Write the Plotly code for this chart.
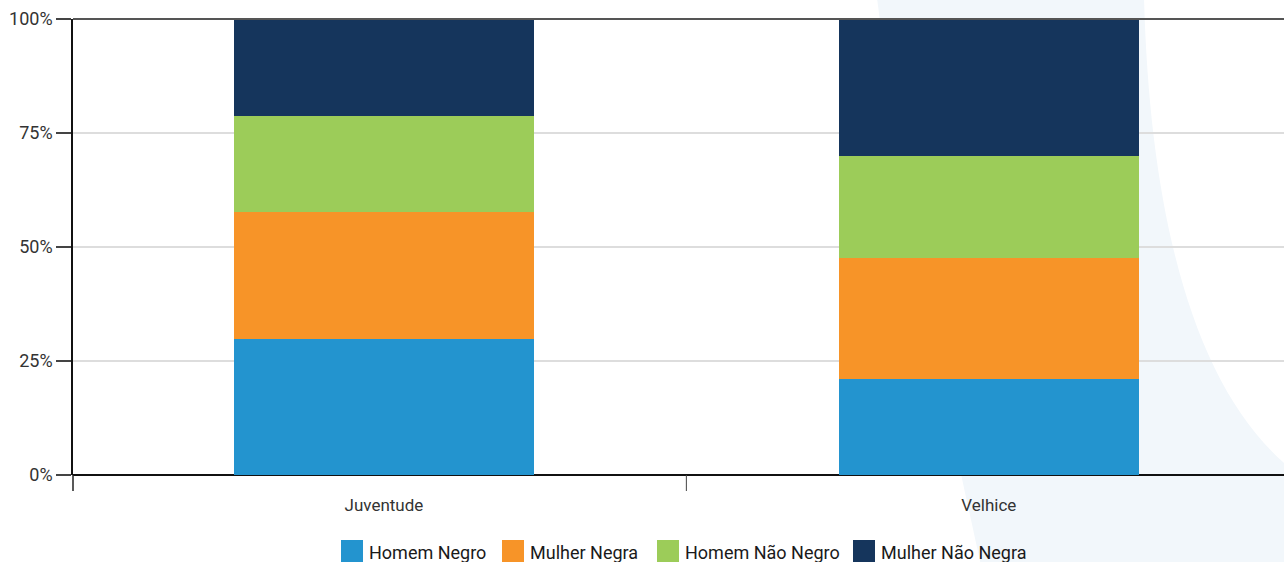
import plotly.graph_objects as go

# ---------- Data ---------- #
categories = ["Juventude", "Velhice"]
series_names = ["Homem Negro", "Mulher Negra", "Homem Não Negro", "Mulher Não Negra"]
homem_negro = [29.8, 21.0]
mulher_negra = [27.9, 26.6]
homem_nao_negro = [21.0, 22.3]
mulher_nao_negra = [21.3, 30.1]
y_ticks = [0, 25, 50, 75, 100]
y_tick_labels = ["0%", "25%", "50%", "75%", "100%"]

colors = ["#2394cf", "#f79428", "#9ccc59", "#15355c"]
values = [homem_negro, mulher_negra, homem_nao_negro, mulher_nao_negra]

W, H = 1284, 562
L, R, T, B = 73, 0, 19, 87
PW, PH = W - L - R, H - T - B


# helpers: screen pixel -> paper coords
def px(x):
    return (x - L) / PW


def py(y):
    return (H - B - y) / PH


fig = go.Figure()
for name, vals, col in zip(series_names, values, colors):
    fig.add_trace(go.Bar(
        x=categories, y=vals, name=name,
        marker=dict(color=col, line=dict(width=0)),
        showlegend=False,
    ))

# decorative pale arc in the background
path = (
    f"M {px(877)},{py(-2)} L {px(1144)},{py(-2)} "
    f"C {px(1150)},{py(220)} {px(1195)},{py(390)} {px(1290)},{py(468)} "
    f"L {px(1290)},{py(570)} L {px(982)},{py(570)} "
    f"C {px(960)},{py(470)} {px(905)},{py(220)} {px(877)},{py(-2)} Z"
)
shapes = [
    dict(type="path", path=path, xref="paper", yref="paper",
         fillcolor="#f2f7fb", line=dict(width=0), layer="below"),
    dict(type="line", xref="paper", yref="paper", x0=0, x1=1, y0=1, y1=1,
         line=dict(color="#555555", width=2), layer="above"),
    # category boundary ticks below the axis
    dict(type="line", xref="paper", yref="paper", x0=0, x1=0, y0=py(475), y1=py(491),
         line=dict(color="#222222", width=1.5)),
    dict(type="line", xref="x", yref="paper", x0=0.5, x1=0.5, y0=py(475), y1=py(491),
         line=dict(color="#444444", width=1)),
]

# manual legend with large square swatches
annotations = []
legend_x = [341, 502, 657, 853]
for name, col, lx in zip(series_names, colors, legend_x):
    shapes.append(dict(type="rect", xref="paper", yref="paper",
                       x0=px(lx), x1=px(lx + 22), y0=py(563), y1=py(540),
                       fillcolor=col, line=dict(width=0)))
    annotations.append(dict(text=name, xref="paper", yref="paper",
                            x=px(lx + 26), y=py(552), xanchor="left", yanchor="middle",
                            showarrow=False, font=dict(size=18, color="#1a1a1a")))

fig.update_layout(
    width=W, height=H,
    margin=dict(l=L, r=R, t=T, b=B),
    barmode="stack",
    bargap=0.504,
    paper_bgcolor="white",
    plot_bgcolor="rgba(0,0,0,0)",
    font=dict(family="Roboto, sans-serif", size=16, color="#333333"),
    shapes=shapes,
    annotations=annotations,
    showlegend=False,
)
fig.update_xaxes(
    automargin=False,
    range=[-0.514, 1.488],
    showgrid=False, showline=False, ticks="",
    ticklabelstandoff=18,
    tickfont=dict(size=17, color="#333333"),
)
fig.update_yaxes(
    automargin=False,
    range=[0, 100], tickvals=y_ticks, ticktext=y_tick_labels,
    showgrid=True, gridcolor="#dddddd", gridwidth=1.5,
    zeroline=True, zerolinecolor="#111111", zerolinewidth=1.5,
    showline=True, linecolor="#111111", linewidth=1.5,
    ticks="outside", ticklen=15, tickcolor="#444444", tickwidth=1.5,
    tickfont=dict(size=18, color="#333333"),
)

# drop the default body margin so the figure fills the window exactly
fig.write_html(
    "out.html",
    config={"displayModeBar": False},
    post_script="document.body.style.margin='0';document.body.style.overflow='hidden';",
)
